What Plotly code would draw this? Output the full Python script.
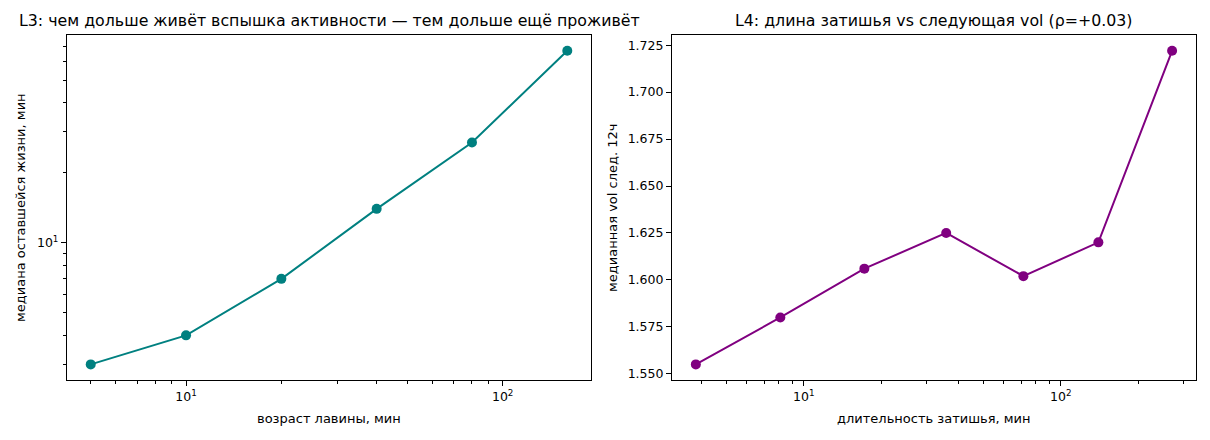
import plotly.graph_objects as go

# L3: возраст лавины -> медиана оставшейся жизни
avalanche_age = [5, 10, 20, 40, 80, 160]
remaining_life = [3.0, 4.0, 7.0, 14.0, 27.0, 67.0]

# L4: длина затишья -> медианная vol следующих 12ч
lull_length = [3.8, 8.1, 17.2, 35.8, 71.5, 140, 271]
next_vol = [1.555, 1.580, 1.606, 1.625, 1.602, 1.620, 1.722]

title_left = "L3: чем дольше живёт вспышка активности — тем дольше ещё проживёт"
title_right = "L4: длина затишья vs следующая vol (ρ=+0.03)"
xlabel_left = "возраст лавины, мин"
ylabel_left = "медиана оставшейся жизни, мин"
xlabel_right = "длительность затишья, мин"
ylabel_right = "медианная vol след. 12ч"

right_yticks = [1.550, 1.575, 1.600, 1.625, 1.650, 1.675, 1.700, 1.725]

# the page body adds an 8px offset, so the figure is 8px smaller
OFF = 8
W, H = 1210 - OFF, 440 - OFF
FONT = "DejaVu Sans"


def px(x):
    return (x - OFF) / W


def py(y):
    return 1 - (y - OFF) / H


def minor_log(lo, hi):
    vals = []
    for dec in (1, 10, 100):
        for m in range(2, 10):
            v = m * dec
            if lo <= v <= hi:
                vals.append(v)
    return vals


axis_common = dict(
    showline=True,
    linecolor="black",
    linewidth=1.1,
    mirror=True,
    ticks="outside",
    ticklen=5,
    tickwidth=1,
    tickcolor="black",
    showgrid=False,
    zeroline=False,
    tickfont=dict(family=FONT, size=12.5, color="black"),
)

fig = go.Figure()
fig.add_trace(
    go.Scatter(
        x=avalanche_age,
        y=remaining_life,
        mode="lines+markers",
        line=dict(color="#008080", width=2),
        marker=dict(color="#008080", size=10),
        xaxis="x",
        yaxis="y",
        showlegend=False,
    )
)
fig.add_trace(
    go.Scatter(
        x=lull_length,
        y=next_vol,
        mode="lines+markers",
        line=dict(color="#800080", width=2),
        marker=dict(color="#800080", size=10),
        xaxis="x2",
        yaxis="y2",
        showlegend=False,
    )
)

minor_style = dict(ticks="outside", ticklen=3, tickwidth=1, tickcolor="black", tickmode="array")

fig.update_layout(
    width=W,
    height=H,
    margin=dict(l=0, r=0, t=0, b=0),
    paper_bgcolor="white",
    plot_bgcolor="white",
    font=dict(family=FONT, color="black"),
    xaxis=dict(
        axis_common,
        domain=[px(67), px(591)],
        type="log",
        range=[0.624, 2.279],
        tickvals=[10, 100],
        ticktext=["10<sup>1</sup>", "10<sup>2</sup>"],
        minor=dict(minor_style, tickvals=minor_log(4, 190)),
        anchor="y",
    ),
    yaxis=dict(
        axis_common,
        domain=[py(380), py(35)],
        type="log",
        range=[0.410, 1.894],
        tickvals=[10],
        ticktext=["10<sup>1</sup>"],
        minor=dict(minor_style, tickvals=minor_log(2.5, 79)),
        anchor="x",
    ),
    xaxis2=dict(
        axis_common,
        domain=[px(672), px(1196)],
        type="log",
        range=[0.487, 2.526],
        tickvals=[10, 100],
        ticktext=["10<sup>1</sup>", "10<sup>2</sup>"],
        minor=dict(minor_style, tickvals=minor_log(3, 335)),
        anchor="y2",
    ),
    yaxis2=dict(
        axis_common,
        domain=[py(380), py(35)],
        range=[1.5467, 1.7304],
        tickvals=right_yticks,
        tickformat=".3f",
        anchor="x2",
    ),
)

ann = dict(xref="paper", yref="paper", showarrow=False, xanchor="center", yanchor="middle")
fig.add_annotation(ann, text=title_left, x=px(329), y=py(21), font=dict(family=FONT, color="black", size=15.8))
fig.add_annotation(ann, text=title_right, x=px(934), y=py(21), font=dict(family=FONT, color="black", size=15.8))
fig.add_annotation(ann, text=xlabel_left, x=px(329), y=py(418), font=dict(family=FONT, color="black", size=13))
fig.add_annotation(ann, text=xlabel_right, x=px(934), y=py(418), font=dict(family=FONT, color="black", size=13))
fig.add_annotation(ann, text=ylabel_left, x=px(20), y=py(208), textangle=-90,
                   font=dict(family=FONT, color="black", size=13))
fig.add_annotation(ann, text=ylabel_right, x=px(612), y=py(208), textangle=-90,
                   font=dict(family=FONT, color="black", size=13))

fig.write_html("out.html")
